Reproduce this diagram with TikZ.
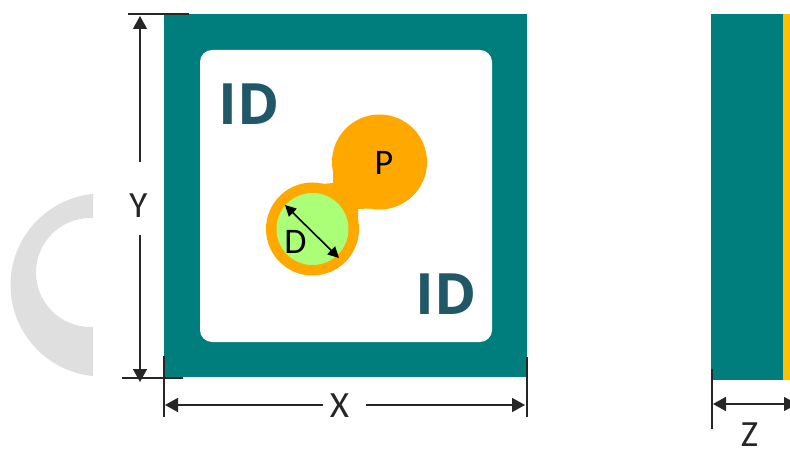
\documentclass[tikz,border=0pt]{standalone}
\usepackage{fontspec}
\setmainfont{Carlito}
\newfontfamily\idfont{Open Sans}
\usetikzlibrary{arrows.meta}
\definecolor{frameteal}{HTML}{007D7D}
\definecolor{padorange}{HTML}{FFA800}
\definecolor{padgreen}{HTML}{AAFF77}
\definecolor{idblue}{HTML}{215868}
\definecolor{sidegold}{HTML}{FFC000}
\definecolor{markgray}{HTML}{DFDFDF}
\tikzset{
  extline/.style={black!85,line width=1.6pt},
  dimline/.style={black!85,line width=1.6pt,-{Triangle[length=13pt,width=14pt]}},
  dimlabel/.style={inner sep=0pt,text=black!85,font=\fontsize{37}{40}\selectfont},
  idlabel/.style={text=idblue,font=\idfont\bfseries\fontsize{57}{60}\selectfont},
  padlabel/.style={inner sep=0pt,font=\fontsize{36}{38}\selectfont}
}
\begin{document}
\begin{tikzpicture}[x=1pt,y=-1pt]
\useasboundingbox (0,0) rectangle (790,449);
\clip (0,0) rectangle (790,449);

\begin{scope}
\clip (0,0) rectangle (93,449);
\fill[markgray,even odd rule] (102,285) circle (91.5pt) (90.5,272.5) circle (54.5pt);
\end{scope}

\fill[frameteal] (164,14) rectangle (527,377);
\fill[white,rounded corners=12pt] (200,50) rectangle (492,342);

\fill[frameteal] (711,14) rectangle (783,380);
\fill[sidegold] (783,14) rectangle (790,380);

\coordinate (pcenter) at (379.5,162);
\coordinate (dcenter) at (312.5,229);
\fill[padorange] (pcenter) -- (333,170) -- (333,183) -- (322,184) -- (dcenter)
  -- (358,222) -- (358,209) -- (370,208.5) -- cycle;
\fill[padorange] (pcenter) circle (47.5pt);
\fill[padorange] (dcenter) circle (46.5pt);
\fill[padgreen] (dcenter) circle (36pt);

\node[idlabel] (idtop) at (249,104) {ID};
\node[idlabel] (idbottom) at (446,294) {ID};
\node[padlabel] (plabel) at (384,163) {P};
\node[padlabel] (dlabel) at (295.5,242) {D};

\coordinate (da) at (285,205);
\coordinate (db) at (339,258);
\draw[black,line width=1.6pt,{Triangle[length=11pt,width=11pt]}-{Triangle[length=11pt,width=11pt]}] (da) -- (db);

\coordinate (ytl) at (128,14);
\coordinate (ytr) at (189,14);
\coordinate (ybl) at (122,378);
\coordinate (ybr) at (183,378);
\draw[extline] (ytl) -- (ytr);
\draw[extline] (ybl) -- (ybr);
\node[dimlabel] (ylabel) at (138.5,205.5) {Y};
\coordinate (ya) at (140,162);
\coordinate (yatip) at (140,16);
\coordinate (yb) at (140,235);
\coordinate (ybtip) at (140,382);
\draw[dimline] (ya) -- (yatip);
\draw[dimline] (yb) -- (ybtip);

\coordinate (xlt) at (164,356);
\coordinate (xlb) at (164,417);
\coordinate (xrt) at (527,357);
\coordinate (xrb) at (527,417);
\draw[extline] (xlt) -- (xlb);
\draw[extline] (xrt) -- (xrb);
\node[dimlabel] (xlabel) at (339.5,405.5) {X};
\coordinate (xa) at (323,405);
\coordinate (xatip) at (165,405);
\coordinate (xb) at (366,405);
\coordinate (xbtip) at (525,405);
\draw[dimline] (xa) -- (xatip);
\draw[dimline] (xb) -- (xbtip);

\coordinate (zt) at (712,369);
\coordinate (zb) at (712,429);
\draw[extline] (zt) -- (zb);
\coordinate (za) at (713,404);
\coordinate (zc) at (797,404);
\draw[dimline,{Triangle[length=13pt,width=14pt]}-{Triangle[length=13pt,width=14pt]}] (za) -- (zc);
\node[dimlabel] (zlabel) at (749.5,435) {Z};
\end{tikzpicture}
\end{document}
